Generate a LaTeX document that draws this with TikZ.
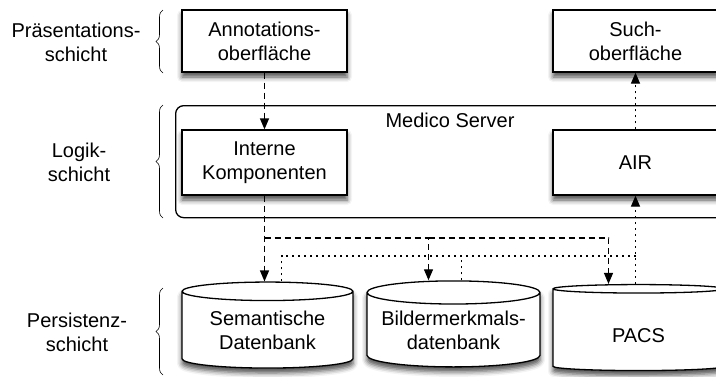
\documentclass[tikz,border=0pt]{standalone}
\usepackage{fontspec}
\setmainfont{Liberation Sans}
\usetikzlibrary{arrows.meta,shapes.geometric,decorations.pathreplacing,shadows.blur}

\tikzset{
  txt/.style={font=\fontsize{20}{24}\selectfont,align=center},
  shade/.style={blur shadow={shadow xshift=0pt,shadow yshift=-5pt,shadow blur radius=5pt,shadow opacity=70}},
  compbox/.style={txt,draw,fill=white,line width=1.3pt,minimum width=165pt,minimum height=62pt,inner sep=0pt,shade},
  db/.style={txt,cylinder,shape border rotate=90,draw,fill=white,line width=1.3pt,minimum width=171pt,minimum height=86pt,aspect=0.16,inner sep=0pt,shade,
    execute at begin node={\rule{0pt}{25pt}}},
  layer/.style={decorate,decoration={brace,amplitude=7pt},line width=0.6pt},
  dashline/.style={line width=1.3pt,dash pattern=on 6pt off 4pt},
  dotline/.style={line width=1.3pt,dash pattern=on 2pt off 4pt}
}

\begin{document}
\begin{tikzpicture}[x=1pt,y=-1pt,>={Triangle[length=11pt,width=9pt]},line cap=butt]
\useasboundingbox (0,0) rectangle (716,376);
\clip (0,0) rectangle (716,376);
% layer labels and braces
\node[txt] (lpres) at (76,42) {Präsentations-\\schicht};
\node[txt] (llogik) at (79,162) {Logik-\\schicht};
\node[txt] (lpers) at (77,332) {Persistenz-\\schicht};
\draw[layer] (163,73) -- (163,10);
\draw[layer] (163,218) -- (163,105);
\draw[layer] (163,375) -- (163,288);
% Medico Server
\node[draw,line width=1.3pt,rounded corners=8pt,minimum width=580pt,minimum height=112pt,anchor=north west] (server) at (175,105) {};
\node[txt] (sname) at (450,120) {Medico Server};
% components
\node[compbox] (annot) at (264.5,41) {Annotations-\\oberfläche};
\node[compbox] (such) at (635.5,41) {Such-\\oberfläche};
\node[compbox,minimum height=65pt] (intern) at (264.5,162.5) {Interne\\Komponenten};
\node[compbox,minimum height=65pt] (air) at (635.5,162.5) {AIR};
% databases
\node[db] (sem) at (267.5,330) {Semantische\\Datenbank};
\node[db,minimum width=173pt] (bild) at (453.5,330) {Bildermerkmals-\\datenbank};
\node[db] (pacs) at (638.5,330) {PACS};
% connectors
\coordinate (dbus) at (0,238);
\coordinate (obus) at (0,256);
\draw[dashline,->] (annot.south) -- (intern.north);
\draw[dotline,->] (air.north) -- (such.south);
\draw[dashline,->] (intern.south) -- (intern.south |- sem.north);
\draw[dashline,->] (intern.south |- dbus) -| ([xshift=-25pt]bild.north);
\draw[dashline,->] ([xshift=-25pt]bild.north |- dbus) -| ([xshift=-30pt]pacs.north);
\draw[dotline,->] (air.south |- pacs.north) -- (air.south);
\draw[dotline] ([xshift=14pt]sem.north) |- (air.south |- obus);
\draw[dotline] ([xshift=8pt]bild.north) -- ([xshift=8pt]bild.north |- obus);
\end{tikzpicture}
\end{document}
